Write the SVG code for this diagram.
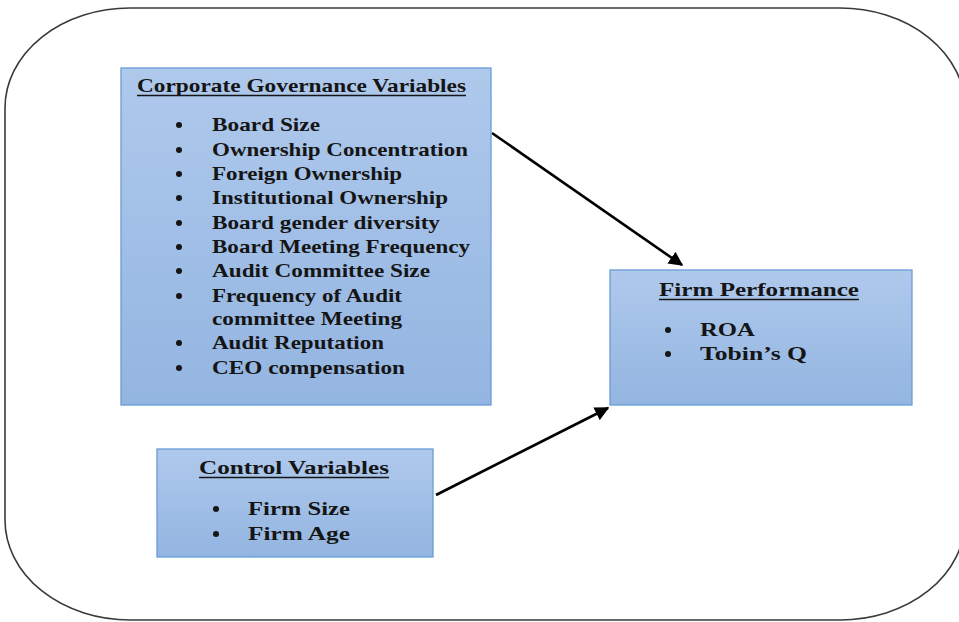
<svg xmlns="http://www.w3.org/2000/svg" width="959" height="622" viewBox="0 0 959 622">
  <style>
    .frame { fill: #ffffff; stroke: #3a3a3a; stroke-width: 1.6; }
    .box { fill: url(#boxFill); stroke: #6b9bd6; stroke-width: 1.3; }
    .t { font-family: "Liberation Serif", "Times New Roman", serif; font-weight: bold; font-size: 19px; fill: #151515; }
    .ul { stroke: #151515; stroke-width: 1.5; }
    .dot { fill: #151515; }
    .link { stroke: #000000; stroke-width: 2.6; fill: none; marker-end: url(#head); }
  </style>
  <defs>
    <linearGradient id="boxFill" x1="0" y1="0" x2="0" y2="1">
      <stop offset="0" stop-color="#afc9ec"/>
      <stop offset="1" stop-color="#93b5e1"/>
    </linearGradient>
    <marker id="head" viewBox="0 0 10 10" refX="9" refY="5" markerWidth="5.5" markerHeight="5.5" orient="auto" markerUnits="strokeWidth">
      <path d="M0,0 L10,5 L0,10 z" fill="#000000"/>
    </marker>
  </defs>

  <rect class="frame" x="5" y="8" width="960" height="612" rx="125" ry="100"/>

  <g id="connectors">
    <line class="link" x1="492" y1="133" x2="682" y2="265"/>
    <line class="link" x1="436" y1="495" x2="608" y2="408"/>
  </g>

  <g id="governance">
    <rect class="box" x="121" y="68" width="370" height="337"/>
    <text class="t" x="137" y="92" textLength="329" lengthAdjust="spacingAndGlyphs">Corporate Governance Variables</text>
    <line class="ul" x1="137" y1="95.5" x2="466" y2="95.5"/>
    <g class="dot">
      <circle cx="179" cy="125" r="3"/>
      <circle cx="179" cy="150" r="3"/>
      <circle cx="179" cy="174" r="3"/>
      <circle cx="179" cy="198" r="3"/>
      <circle cx="179" cy="223" r="3"/>
      <circle cx="179" cy="247" r="3"/>
      <circle cx="179" cy="271" r="3"/>
      <circle cx="179" cy="296" r="3"/>
      <circle cx="179" cy="343" r="3"/>
      <circle cx="179" cy="368" r="3"/>
    </g>
    <text class="t" x="212" y="131" textLength="108" lengthAdjust="spacingAndGlyphs">Board Size</text>
    <text class="t" x="212" y="156" textLength="256" lengthAdjust="spacingAndGlyphs">Ownership Concentration</text>
    <text class="t" x="212" y="180" textLength="190" lengthAdjust="spacingAndGlyphs">Foreign Ownership</text>
    <text class="t" x="212" y="204" textLength="236" lengthAdjust="spacingAndGlyphs">Institutional Ownership</text>
    <text class="t" x="212" y="229" textLength="228" lengthAdjust="spacingAndGlyphs">Board gender diversity</text>
    <text class="t" x="212" y="253" textLength="258" lengthAdjust="spacingAndGlyphs">Board Meeting Frequency</text>
    <text class="t" x="212" y="277" textLength="218" lengthAdjust="spacingAndGlyphs">Audit Committee Size</text>
    <text class="t" x="212" y="302" textLength="190" lengthAdjust="spacingAndGlyphs">Frequency of Audit</text>
    <text class="t" x="212" y="325" textLength="190" lengthAdjust="spacingAndGlyphs">committee Meeting</text>
    <text class="t" x="212" y="349" textLength="172" lengthAdjust="spacingAndGlyphs">Audit Reputation</text>
    <text class="t" x="212" y="374" textLength="193" lengthAdjust="spacingAndGlyphs">CEO compensation</text>
  </g>

  <g id="performance">
    <rect class="box" x="610" y="270" width="302" height="135"/>
    <text class="t" x="659" y="296" textLength="200" lengthAdjust="spacingAndGlyphs">Firm Performance</text>
    <line class="ul" x1="659" y1="299.5" x2="859" y2="299.5"/>
    <circle class="dot" cx="668" cy="330" r="3"/>
    <circle class="dot" cx="668" cy="354" r="3"/>
    <text class="t" x="700" y="336" textLength="55" lengthAdjust="spacingAndGlyphs">ROA</text>
    <text class="t" x="700" y="360" textLength="107" lengthAdjust="spacingAndGlyphs">Tobin’s Q</text>
  </g>

  <g id="controls">
    <rect class="box" x="157" y="449" width="276" height="108"/>
    <text class="t" x="199" y="474" textLength="190" lengthAdjust="spacingAndGlyphs">Control Variables</text>
    <line class="ul" x1="199" y1="477.5" x2="389" y2="477.5"/>
    <circle class="dot" cx="216" cy="509" r="3"/>
    <circle class="dot" cx="216" cy="534" r="3"/>
    <text class="t" x="248" y="515" textLength="102" lengthAdjust="spacingAndGlyphs">Firm Size</text>
    <text class="t" x="248" y="540" textLength="102" lengthAdjust="spacingAndGlyphs">Firm Age</text>
  </g>
</svg>
